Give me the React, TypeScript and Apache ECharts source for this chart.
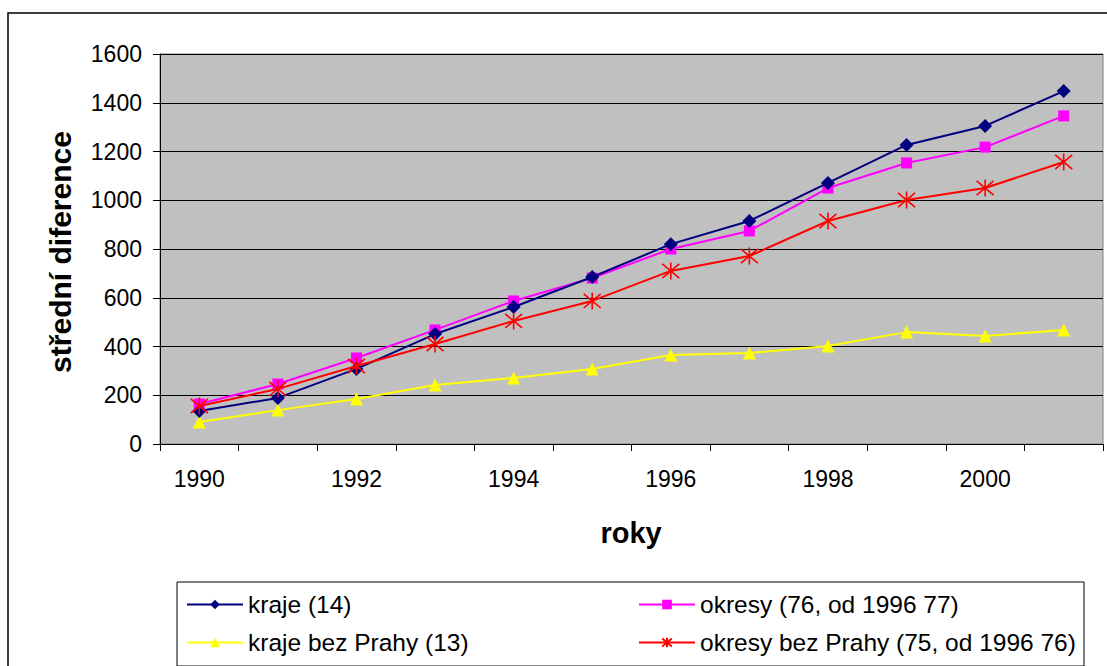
import React, { useEffect, useRef } from "react";
import * as echarts from "echarts";

const years = ["1990", "1991", "1992", "1993", "1994", "1995", "1996", "1997", "1998", "1999", "2000", "2001"];
const kraje = [135, 189, 308, 451, 562, 685, 820, 915, 1071, 1227, 1305, 1448];
const okresy = [164, 246, 353, 468, 587, 681, 800, 874, 1050, 1153, 1218, 1346];
const krajeBezPrahy = [90, 139, 185, 242, 271, 308, 365, 373, 402, 459, 443, 468];
const okresyBezPrahy = [156, 226, 320, 410, 505, 587, 710, 771, 915, 1001, 1050, 1157];

const seriesNames = [
  "kraje (14)",
  "okresy (76, od 1996 77)",
  "kraje bez Prahy (13)",
  "okresy bez Prahy (75, od 1996 76)",
];

const FONT = "'Liberation Sans', Arial, sans-serif";
const STAR = "path://M0,0 L20,20 M0,20 L20,0 M10,-2 L10,22";

export default function App() {
  const ref = useRef<HTMLDivElement>(null);
  useEffect(() => {
    if (!ref.current) return;
    const chart = echarts.init(ref.current, undefined, { renderer: "svg" });
    const legendText = { fontFamily: FONT, fontSize: 24.5, color: "#000" };
    chart.setOption({
      animation: false,
      backgroundColor: "#fff",
      textStyle: { fontFamily: FONT },
      grid: {
        left: 160,
        top: 54,
        right: 4,
        bottom: 222,
        show: true,
        backgroundColor: "#C0C0C0",
        borderColor: "#808080",
        borderWidth: 1,
      },
      xAxis: {
        type: "category",
        data: years,
        boundaryGap: true,
        axisLine: { lineStyle: { color: "#000", width: 1 } },
        axisTick: { show: true, interval: 0, length: 7, lineStyle: { color: "#000" } },
        axisLabel: { interval: 1, margin: 23, fontSize: 23, color: "#000", fontFamily: FONT },
        splitLine: { show: false },
      },
      yAxis: {
        type: "value",
        min: 0,
        max: 1600,
        interval: 200,
        axisLine: { show: true, lineStyle: { color: "#000", width: 1 } },
        axisTick: { show: true, length: 7, lineStyle: { color: "#000" } },
        axisLabel: {
          margin: 18,
          fontSize: 23,
          color: "#000",
          fontFamily: FONT,
          formatter: (v: number) => String(v),
        },
        splitLine: { show: true, lineStyle: { color: "#000", width: 1 } },
      },
      legend: [
        {
          data: [seriesNames[0], seriesNames[2]],
          orient: "vertical",
          left: 181,
          top: 587,
          itemWidth: 56,
          itemHeight: 12,
          itemGap: 13,
          textStyle: legendText,
        },
        {
          data: [seriesNames[1], seriesNames[3]],
          orient: "vertical",
          left: 633,
          top: 587,
          itemWidth: 56,
          itemHeight: 12,
          itemGap: 13,
          textStyle: legendText,
        },
      ],
      graphic: [
        {
          type: "rect",
          shape: { x: 8, y: 13, width: 1120, height: 680 },
          style: { fill: "none", stroke: "#000", lineWidth: 1.5 },
          silent: true,
          z: -1,
        },
        {
          type: "rect",
          shape: { x: 177, y: 582, width: 907, height: 84 },
          style: { fill: "none", stroke: "#000", lineWidth: 1 },
          silent: true,
        },
        {
          type: "text",
          x: 60,
          y: 252,
          rotation: Math.PI / 2,
          style: {
            text: "střední diference",
            font: "bold 30px 'Liberation Sans', Arial, sans-serif",
            fill: "#000",
            textAlign: "center",
            textVerticalAlign: "middle",
          },
        },
        {
          type: "text",
          x: 631,
          y: 533,
          style: {
            text: "roky",
            font: "bold 29px 'Liberation Sans', Arial, sans-serif",
            fill: "#000",
            textAlign: "center",
            textVerticalAlign: "middle",
          },
        },
      ],
      series: [
        {
          name: seriesNames[0],
          type: "line",
          data: kraje,
          symbol: "diamond",
          symbolSize: 14,
          lineStyle: { color: "#000080", width: 2 },
          itemStyle: { color: "#000080" },
          z: 4,
        },
        {
          name: seriesNames[1],
          type: "line",
          data: okresy,
          symbol: "rect",
          symbolSize: 11,
          lineStyle: { color: "#FF00FF", width: 2 },
          itemStyle: { color: "#FF00FF" },
          z: 3,
        },
        {
          name: seriesNames[2],
          type: "line",
          data: krajeBezPrahy,
          symbol: "triangle",
          symbolSize: 13,
          lineStyle: { color: "#FFFF00", width: 2 },
          itemStyle: { color: "#FFFF00" },
          z: 2,
        },
        {
          name: seriesNames[3],
          type: "line",
          data: okresyBezPrahy,
          symbol: STAR,
          symbolSize: 17,
          lineStyle: { color: "#FF0000", width: 2 },
          itemStyle: { color: "#FF0000", borderColor: "#FF0000", borderWidth: 1.6 },
          z: 5,
        },
      ],
    });
    return () => chart.dispose();
  }, []);
  return (
    <div
      ref={ref}
      style={{ position: "fixed", left: 0, top: 0, width: 1107, height: 666 }}
    />
  );
}
